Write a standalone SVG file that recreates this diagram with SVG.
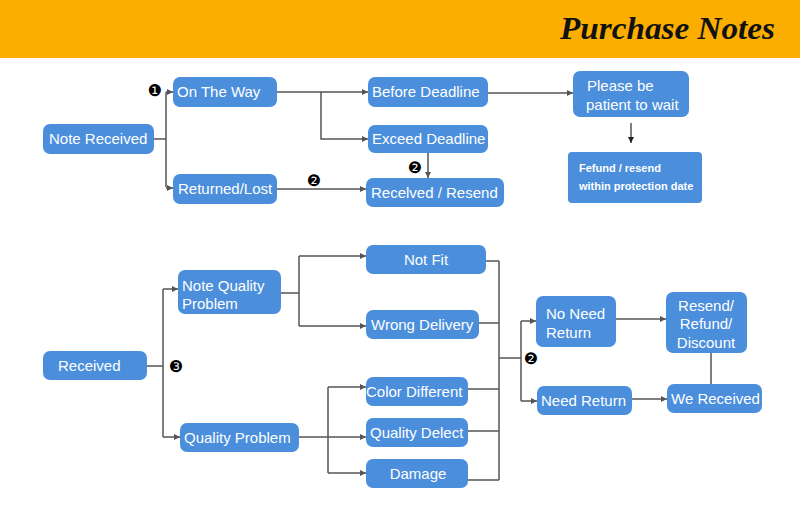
<svg xmlns="http://www.w3.org/2000/svg" width="800" height="507" viewBox="0 0 800 507">
<style>
.box{fill:#4A8EDC}
.t{font-family:"Liberation Sans",Arial,sans-serif;font-size:15px;fill:#fff}
.s{font-family:"Liberation Sans",Arial,sans-serif;font-size:11px;font-weight:bold;fill:#fff}
.n{font-family:"DejaVu Sans",sans-serif;font-size:16px;fill:#000}
.c path,.c line{stroke:#555;stroke-width:1.5;fill:none}
.a{marker-end:url(#ah)}
</style>
<defs>
<marker id="ah" viewBox="0 0 8 8" refX="8" refY="4" markerWidth="6" markerHeight="6" markerUnits="userSpaceOnUse" orient="auto">
<path d="M0,0 L8,4 L0,8 z" fill="#555"/>
</marker>
<marker id="ahb" viewBox="0 0 8 8" refX="8" refY="4" markerWidth="6" markerHeight="6" markerUnits="userSpaceOnUse" orient="auto">
<path d="M0,0 L8,4 L0,8 z" fill="#222"/>
</marker>
</defs>
<rect width="800" height="507" fill="#fff"/>
<rect width="800" height="58" fill="#FBAE00"/>
<text x="560" y="39" textLength="215" lengthAdjust="spacingAndGlyphs" font-family="'Liberation Serif',serif" font-style="italic" font-weight="bold" font-size="31" fill="#111">Purchase Notes</text>

<g class="c">
<path d="M154,139 H166 M166,92 V187"/>
<path class="a" d="M166,92 H173"/>
<path class="a" d="M166,188 H173"/>
<path class="a" d="M277,92 H368"/>
<path class="a" d="M321,92 V139 H368"/>
<path class="a" d="M488,93 H573"/>
<path class="a" d="M428,153 V178"/>
<path class="a" d="M277,189 H366"/>
<path d="M631,123 V143" stroke="#222" marker-end="url(#ahb)"/>
<path d="M147,366 H163 M163,289 V437"/>
<path class="a" d="M163,289 H178"/>
<path class="a" d="M163,437 H180"/>
<path d="M281,293 H299 M299,256 V326"/>
<path class="a" d="M299,256 H366"/>
<path class="a" d="M299,326 H366"/>
<path class="a" d="M299,437 H366"/>
<path d="M328,387 V473"/>
<path class="a" d="M328,387 H366"/>
<path class="a" d="M328,473 H366"/>
<path d="M486,261 H499 M479,323 H499 M468,389 H499 M468,431 H499 M468,480 H499 M499,261 V480 M499,358 H521 M521,321 V401"/>
<path class="a" d="M521,321 H536"/>
<path class="a" d="M521,401 H537"/>
<path class="a" d="M616,319 H666"/>
<path class="a" d="M632,399 H667"/>
<path d="M711,353 V384"/>
</g>

<g id="note-received"><rect class="box" x="43" y="124" width="111" height="30" rx="7"/><text class="t" x="49" y="144">Note Received</text></g>
<g id="on-the-way"><rect class="box" x="173" y="77" width="104" height="30" rx="7"/><text class="t" x="177" y="97">On The Way</text></g>
<g id="returned-lost"><rect class="box" x="173" y="174" width="104" height="30" rx="7"/><text class="t" x="178" y="194">Returned/Lost</text></g>
<g id="before-deadline"><rect class="box" x="368" y="77" width="120" height="30" rx="7"/><text class="t" x="372" y="97">Before Deadline</text></g>
<g id="exceed-deadline"><rect class="box" x="368" y="125" width="120" height="28" rx="7"/><text class="t" x="372" y="144">Exceed Deadline</text></g>
<g id="received-resend"><rect class="box" x="366" y="178" width="138" height="29" rx="7"/><text class="t" x="371" y="198">Recelved / Resend</text></g>
<g id="please-wait"><rect class="box" x="573" y="71" width="116" height="46" rx="7"/><text class="t" x="587" y="91">Please be</text><text class="t" x="586" y="110">patient to wait</text></g>
<g id="fefund"><rect class="box" x="568" y="152" width="134" height="51" rx="4"/><text class="s" x="579" y="172">Fefund / resend</text><text class="s" x="579" y="190">within protection date</text></g>

<g id="received"><rect class="box" x="43" y="351" width="104" height="29" rx="7"/><text class="t" x="58" y="371">Received</text></g>
<g id="note-quality-problem"><rect class="box" x="178" y="270" width="103" height="44" rx="7"/><text class="t" x="182" y="291">Note Quality</text><text class="t" x="182" y="309">Problem</text></g>
<g id="quality-problem"><rect class="box" x="180" y="423" width="119" height="29" rx="7"/><text class="t" x="184" y="443">Quality Problem</text></g>
<g id="not-fit"><rect class="box" x="366" y="245" width="120" height="29" rx="7"/><text class="t" x="426" y="265" text-anchor="middle">Not Fit</text></g>
<g id="wrong-delivery"><rect class="box" x="366" y="310" width="113" height="29" rx="7"/><text class="t" x="371" y="330">Wrong Delivery</text></g>
<g id="color-different"><rect class="box" x="366" y="377" width="102" height="29" rx="7"/><text class="t" x="366" y="397">Color Different</text></g>
<g id="quality-delect"><rect class="box" x="366" y="418" width="102" height="29" rx="7"/><text class="t" x="370" y="438">Quality Delect</text></g>
<g id="damage"><rect class="box" x="366" y="459" width="102" height="29" rx="7"/><text class="t" x="418" y="479" text-anchor="middle">Damage</text></g>
<g id="no-need-return"><rect class="box" x="536" y="296" width="80" height="51" rx="7"/><text class="t" x="546" y="319">No Need</text><text class="t" x="546" y="338">Return</text></g>
<g id="need-return"><rect class="box" x="537" y="386" width="95" height="29" rx="7"/><text class="t" x="541" y="406">Need Return</text></g>
<g id="resend-refund-discount"><rect class="box" x="666" y="292" width="81" height="61" rx="7"/><text class="t" x="706" y="311" text-anchor="middle">Resend/</text><text class="t" x="706" y="329" text-anchor="middle">Refund/</text><text class="t" x="706" y="348" text-anchor="middle">Discount</text></g>
<g id="we-received"><rect class="box" x="667" y="384" width="95" height="29" rx="7"/><text class="t" x="671" y="404">We Received</text></g>

<g id="markers">
<text class="n" x="155" y="96" text-anchor="middle">❶</text>
<text class="n" x="314" y="186" text-anchor="middle">❷</text>
<text class="n" x="415" y="173" text-anchor="middle">❷</text>
<text class="n" x="176" y="372" text-anchor="middle">❸</text>
<text class="n" x="531" y="364" text-anchor="middle">❷</text>
</g>
</svg>
